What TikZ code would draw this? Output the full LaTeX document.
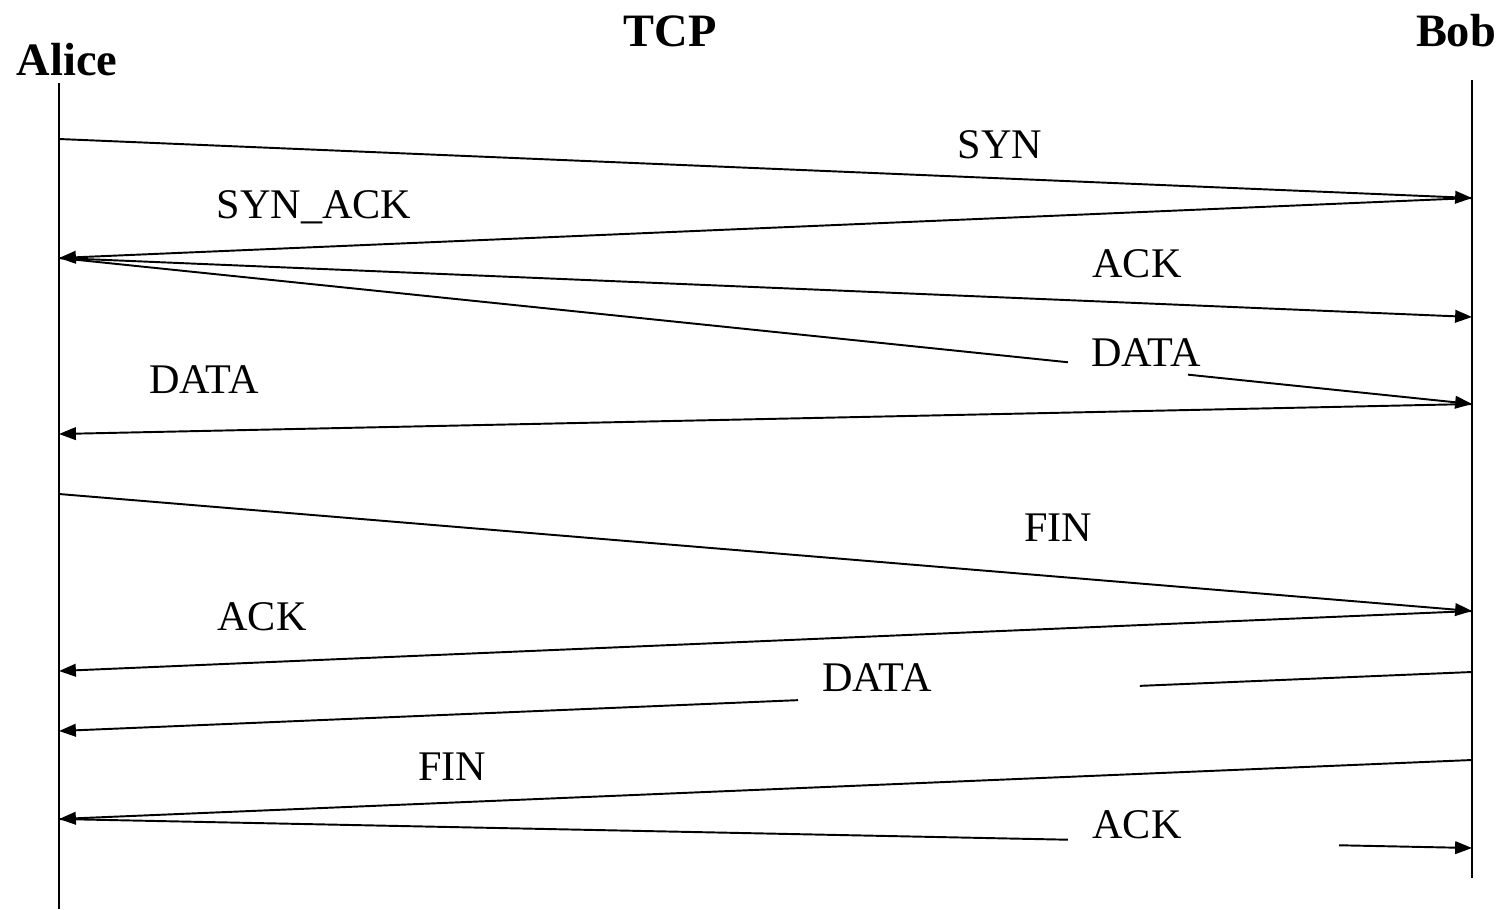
\documentclass[tikz,border=0pt]{standalone}
\usepackage{fontspec}
\setmainfont{Liberation Serif}
\usetikzlibrary{arrows.meta,calc}
\begin{document}
\begin{tikzpicture}[x=0.01cm,y=-0.01cm,
  lifeline/.style={line width=0.8pt},
  msg/.style={line width=0.55pt},
  msgarrow/.style={msg,-{Triangle[length=4.8pt,width=3.6pt]}},
  party/.style={font=\fontsize{13.2}{15}\selectfont\bfseries,anchor=base,inner sep=0pt},
  msglabel/.style={font=\fontsize{12}{14}\selectfont,anchor=base,inner sep=0pt}]
\useasboundingbox (0,0) rectangle (1506,909);

% participants
\node[party] (alice) at (67,75) {Alice};
\node[party] (tcp) at (670,46) {TCP};
\node[party] (bob) at (1456,46) {Bob};

% lifelines
\coordinate (atop) at (59,83);
\coordinate (abot) at (59,909);
\coordinate (btop) at (1472,80);
\coordinate (bbot) at (1472,878);
\draw[lifeline] (atop) -- (abot);
\draw[lifeline] (btop) -- (bbot);

% message end points
\coordinate (a1) at (59,139);
\coordinate (b1) at (1472,198);
\coordinate (a2) at (59,258);
\coordinate (b3) at (1472,317);
\coordinate (b4) at (1472,404);
\coordinate (a5) at (59,434);
\coordinate (a6) at (59,494);
\coordinate (b6) at (1472,611);
\coordinate (a7) at (59,671);
\coordinate (b8) at (1472,672);
\coordinate (a8) at (59,731);
\coordinate (b9) at (1472,760);
\coordinate (a9) at (59,819);
\coordinate (b10) at (1472,848);

% connection set-up
\draw[msgarrow] (a1) -- (b1);
\node[msglabel] (lsyn) at (1000,158) {SYN};
\draw[msgarrow] (b1) -- (a2);
\node[msglabel] (lsynack) at (314,218) {SYN\_ACK};
\draw[msgarrow] (a2) -- (b3);
\node[msglabel] (lack1) at (1137,277) {ACK};
\draw[msg] (a2) -- ($(a2)!0.714!(b4)$);
\draw[msgarrow] ($(a2)!0.799!(b4)$) -- (b4);
\node[msglabel] (ldata1) at (1146,366) {DATA};
\draw[msgarrow] (b4) -- (a5);
\node[msglabel] (ldata2) at (204,393) {DATA};

% connection tear-down
\draw[msgarrow] (a6) -- (b6);
\node[msglabel] (lfin1) at (1058,541) {FIN};
\draw[msgarrow] (b6) -- (a7);
\node[msglabel] (lack2) at (262,630) {ACK};
\draw[msg] (b8) -- ($(b8)!0.235!(a8)$);
\draw[msgarrow] ($(b8)!0.477!(a8)$) -- (a8);
\node[msglabel] (ldata3) at (877,691) {DATA};
\draw[msgarrow] (b9) -- (a9);
\node[msglabel] (lfin2) at (452,780) {FIN};
\draw[msg] (a9) -- ($(a9)!0.714!(b10)$);
\draw[msgarrow] ($(a9)!0.906!(b10)$) -- (b10);
\node[msglabel] (lack3) at (1137,838) {ACK};
\end{tikzpicture}
\end{document}
